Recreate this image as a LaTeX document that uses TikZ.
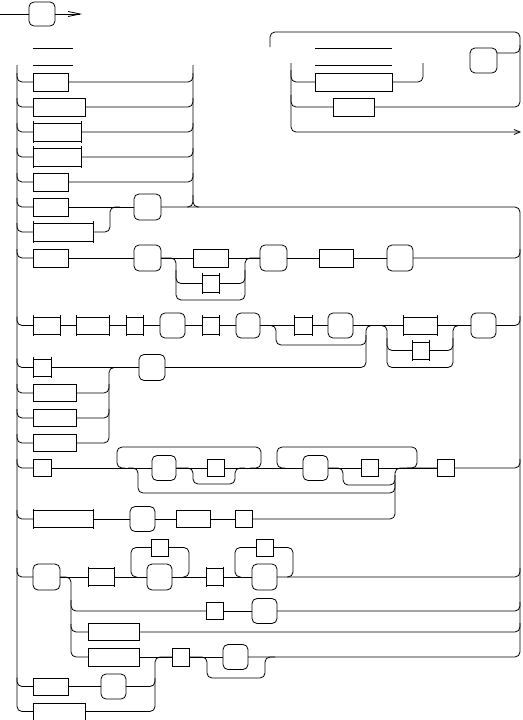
\documentclass[tikz,border=0pt]{standalone}
\usetikzlibrary{arrows.meta}
\tikzset{
  bx/.style={draw,rectangle,inner sep=0pt,outer sep=0pt},
  rbx/.style={draw,rectangle,rounded corners=5pt,inner sep=0pt,outer sep=0pt},
  rc/.style={rounded corners=5pt},
}
\newcommand\mkbox[5]{\node[bx,minimum width={#4-#2},minimum height={#5-#3}] (#1) at ({(#2+#4)/2},{(#3+#5)/2}) {};}
\newcommand\mkrnd[5]{\node[rbx,minimum width={#4-#2},minimum height={#5-#3}] (#1) at ({(#2+#4)/2},{(#3+#5)/2}) {};}
\newcommand\mktck[5]{\mkbox{#1}{#2}{#3}{#4}{#5}\draw ([yshift=1.8pt]#1.north west) -- ([yshift=-1.8pt]#1.south west) ([yshift=1.8pt]#1.north east) -- ([yshift=-1.8pt]#1.south east);}
\begin{document}
\begin{tikzpicture}[x=1pt,y=-1pt,line width=0.8pt]
\useasboundingbox (0,0) rectangle (522,720);
% ---------- top-left start
\mkrnd{S0}{29}{2}{55}{26}
\coordinate (s0in) at (0,14);
\coordinate (s0out) at (82,14);
\draw (s0in) -- (S0.west);
\draw[-{Straight Barb[length=12pt,width=5pt]}] (S0.east) -- (s0out);
\draw (33,48) -- (73,48) (33,65) -- (73,65);
% ---------- left column rows
\mkbox{r1}{33}{73}{68}{91}
\mkbox{r2}{33}{98}{85}{116}
\mktck{r3}{33}{123}{81}{141}
\mktck{r4}{33}{148}{81}{166}
\mkbox{r5}{33}{173}{68}{191}
\mkbox{r6}{33}{198}{68}{216}
\mktck{r7}{33}{223}{93}{241}
\mkrnd{R6}{134}{194}{161}{220}
\mkbox{r8}{33}{249}{68}{267}
\mkrnd{R8}{134}{245}{161}{271}
\mkbox{c8a}{193}{249}{228}{267}
\mktck{c8b}{202}{275}{219}{292}
\mkrnd{R8b}{260}{245}{287}{271}
\mkbox{c8c}{319}{249}{353}{267}
\mkrnd{R8c}{387}{245}{413}{271}
% row 9
\mktck{r9a}{33}{317}{60}{334}
\mktck{r9b}{76}{317}{109}{334}
\mktck{r9c}{126}{317}{143}{334}
\mkrnd{R9d}{160}{313}{185}{338}
\mktck{r9e}{202}{317}{219}{334}
\mkrnd{R9f}{236}{313}{260}{338}
\mktck{r9g}{294}{317}{312}{334}
\mkrnd{R9h}{328}{313}{353}{338}
\mktck{r9i}{403}{317}{437}{334}
\mktck{r9j}{412}{342}{429}{359}
\mkrnd{R9k}{471}{313}{496}{338}
% rows 10-13
\mktck{r10a}{33}{359}{51}{376}
\mkrnd{R10b}{139}{354.5}{165}{380.5}
\mkbox{r11}{33}{384.5}{76}{401.5}
\mkbox{r12}{33}{409.5}{76}{426.5}
\mkbox{r13}{33}{434.5}{76}{451.5}
% row 14
\mkbox{r14a}{33}{459.5}{51}{476.5}
\mkrnd{R14b}{152}{455.5}{176}{480.5}
\mkbox{r14c}{207}{459.5}{224}{476.5}
\mkrnd{R14d}{303}{455.5}{328}{480.5}
\mkbox{r14e}{361}{459.5}{378}{476.5}
\mkbox{r14z}{437}{459.5}{454}{476.5}
% row 15
\mktck{r15a}{33}{510.5}{93}{527.5}
\mkrnd{R15b}{130}{506.5}{155}{531.5}
\mkbox{r15c}{176}{510.5}{210}{527.5}
\mkbox{r15d}{235}{510.5}{252}{527.5}
% row 16
\mkrnd{R16a}{33}{564}{60}{590}
\mktck{r16b}{88}{568.5}{114}{585.5}
\mkbox{r16c}{151}{539}{168}{556}
\mkrnd{R16d}{147}{564}{172}{590}
\mktck{r16e}{206}{568.5}{223}{585.5}
\mkbox{r16f}{256}{539}{273}{556}
\mkrnd{R16g}{252}{564}{277}{590}
% row 17-21
\mkbox{r17a}{206}{602.5}{223}{619.5}
\mkrnd{R17b}{252}{598.5}{277}{623.5}
\mkbox{r18}{88}{623.5}{139}{640.5}
\mkbox{r19a}{88}{648}{139}{666}
\mkbox{r19b}{172}{648}{189}{666}
\mkrnd{R19c}{223}{644.5}{248}{669.5}
\mkbox{r20a}{33}{678}{68}{695}
\mkrnd{R20b}{101}{674}{126}{699}
\mkbox{r21}{33}{703}{85}{720}
% ---------- top right
\mkrnd{Rtr}{470}{48}{497}{73}
\mkbox{rt1}{315}{73}{392}{91}
\mkbox{rt2}{333}{98}{374}{116}
\draw (315,48) -- (392,48) (315,65) -- (392,65);
\coordinate (Rtrj) at (497,53);
\coordinate (endarrow) at (521,132);
\draw[rc] (rt2.east) -| (520,32) -| (270,47);
\draw[rc] (Rtrj) -| (520,45);
\draw[rc,-{Straight Barb[length=6pt,width=5pt]}] (291,63) |- (endarrow);
\draw[rc] (291,70) |- (rt1.west);
\draw[rc] (291,95) |- (rt2.west);
\draw[rc] (rt1.east) -| (423,63);
% ---------- left rail and branches
\draw[rc] (17,65) |- (r21.west);
\foreach \n/\y in {r1/82,r2/107,r3/132,r4/157,r5/182,r6/207,r7/232,r8/258,r9a/325.5,r10a/367.5,r11/393,r12/418,r13/443,r14a/468,r15a/519,R16a/577,r20a/686.5}
  \draw[rc] (17,\y-9) |- (\n.west);
% ---------- rail at 193
\draw[rc] (193,65) |- (199,207);
\draw[rc] (193,195) |- (187,207);
\foreach \n/\y in {r1/82,r2/107,r3/132,r4/157,r5/182}
  \draw[rc] (\n.east) -| (193,\y-9);
% rows 6,7
\draw (r6.east) -- (R6.west);
\draw[rc] (r7.east) -| (110,207) -- (120,207);
% row 8
\draw (r8.east) -- (R8.west) (R8.east) -- (c8a.west) (c8a.east) -- (R8b.west)
      (R8b.east) -- (c8c.west) (c8c.east) -- (R8c.west);
\draw[rc] (R8.east) -| (176,300) -| (245,258) -- (R8b.west);
\draw[rc] (176,270) |- (c8b.west);
\draw[rc] (c8b.east) -| (245,270);
\draw[rc] (R8c.east) -| (520,249);
% row 9
\draw (r9a.east) -- (r9b.west) (r9b.east) -- (r9c.west) (r9c.east) -- (R9d.west)
      (R9d.east) -- (r9e.west) (r9e.east) -- (R9f.west) (R9f.east) -- (r9g.west)
      (r9g.east) -- (R9h.west) (R9h.east) -- (r9i.west) (r9i.east) -- (R9k.west);
\draw[rc] (R9f.east) -| (276,345) -| (366,335);
\draw[rc] (372,325.5) -| (387,367.5) -| (453,325.5) -- (R9k.west);
\draw[rc] (387,338) |- (r9j.west);
\draw[rc] (r9j.east) -| (453,338);
\draw[rc] (R9k.east) -| (520,316);
% rows 10-13
\draw (r10a.east) -- (R10b.west);
\draw[rc] (R10b.east) -| (366,325.5) -- (380,325.5);
\draw[rc] (r13.east) -| (109,367.5) -- (R10b.west);
\draw[rc] (r11.east) -| (109,384);
\draw[rc] (r12.east) -| (109,409);
% row 14
\draw (r14a.east) -- (R14b.west) (R14b.east) -- (r14c.west) (r14c.east) -- (R14d.west)
      (R14d.east) -- (r14e.west) (r14e.east) -- (r14z.west);
\draw[rc] (125,468) -| (117,447) -| (261,468) -- (250,468);
\draw[rc] (285,468) -| (277,447) -| (417,468) -- (407,468);
\draw[rc] (128,468) -| (138,493) -| (395,482);
\draw[rc] (R14b.east) -| (193,484) -| (235,468) -- (245,468);
\draw[rc] (R14d.east) -| (343,485) -| (395,475);
\draw[rc] (r14z.east) -| (520,459);
% row 15
\draw (r15a.east) -- (R15b.west) (R15b.east) -- (r15c.west) (r15c.east) -- (r15d.west);
\draw[rc] (r15d.east) -| (395,468) -- (r14z.west);
% row 16
\draw[rc] (R16a.east) -| (71,657) -- (r19a.west);
\draw (R16a.east) -- (r16b.west) (r16b.east) -- (R16d.west) (R16d.east) -- (r16e.west)
      (r16e.east) -- (R16g.west);
\draw[rc] (137,577) -| (131,547.5) -- (r16c.west);
\draw[rc] (r16c.east) -| (189,577) -- (183,577);
\draw[rc] (241,577) -| (235,547.5) -- (r16f.west);
\draw[rc] (r16f.east) -| (293,577) -- (287,577);
\draw[rc] (R16g.east) -| (520,568);
% row 17
\draw[rc] (71,600) |- (r17a.west);
\draw (r17a.east) -- (R17b.west);
\draw[rc] (R17b.east) -| (520,602);
% row 18
\draw[rc] (71,624) |- (r18.west);
\draw[rc] (r18.east) -| (520,623);
% row 19
\draw (r19a.east) -- (r19b.west) (r19b.east) -- (R19c.west);
\draw[rc] (r19b.east) -| (207,678) -| (265,657) -- (275,657);
\draw[rc] (R19c.east) -| (520,207) -- (R6.east);
% rows 20, 21
\draw (r20a.east) -- (R20b.west);
\draw[rc] (R20b.east) -| (155,678);
\draw[rc] (r21.east) -| (155,657) -- (r19b.west);
\end{tikzpicture}
\end{document}
